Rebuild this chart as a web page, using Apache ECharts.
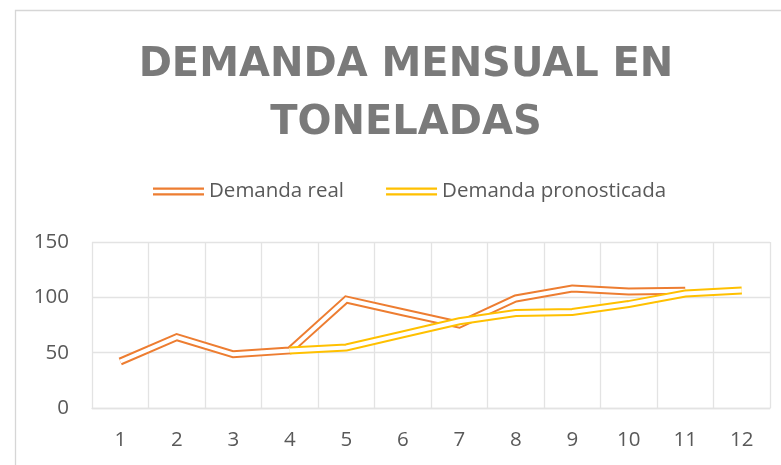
<!DOCTYPE html>
<html>
<head>
<meta charset="utf-8">
<script src="https://cdn.jsdelivr.net/npm/echarts@6/dist/echarts.min.js"></script>
<style>
  html, body { margin: 0; padding: 0; background: #fff; }
  #chart { width: 781px; height: 465px; }
</style>
</head>
<body>
<div id="chart"></div>
<script>
// months on the x axis
const months = ['1', '2', '3', '4', '5', '6', '7', '8', '9', '10', '11', '12'];
// tonnes per month
const demandaReal = [42, 64, 48.5, 52, 98, 86.5, 75.3, 99, 108, 105.2, 106, '-'];
const demandaPronosticada = ['-', '-', '-', 52, 54.7, 66.5, 78.4, 85.8, 86.7, 93.9, 103.5, 106.2];
const yTicks = { min: 0, max: 150, interval: 50 };

const ORANGE = '#ED7D31';
const YELLOW = '#FFC000';
const GRID = '#e3e3e3';
const TEXT = '#595959';
const FONT = '"Open Sans", sans-serif';

// double stroke like Excel's compound line: a wide coloured line with a white core
const doubleIcon = 'path://M0,0H51V2.2H0Z M0,5.8H51V8H0Z';

function outerLine(name, data, color) {
  return {
    name, type: 'line', data,
    symbol: 'none', silent: true,
    itemStyle: { color },
    lineStyle: { color, width: 8, join: 'miter', cap: 'butt' },
    emphasis: { disabled: true }
  };
}
function innerLine(name, data) {
  return {
    name, type: 'line', data,
    symbol: 'none', silent: true,
    itemStyle: { color: '#fff' },
    lineStyle: { color: '#fff', width: 4, join: 'miter', cap: 'butt' },
    emphasis: { disabled: true }
  };
}

const chart = echarts.init(document.getElementById('chart'));

const option = {
  animation: false,
  backgroundColor: '#fff',
  graphic: [{
    type: 'rect',
    shape: { x: 15.5, y: 10.5, width: 1000, height: 1000 },
    style: { fill: 'none', stroke: '#d6d6d6', lineWidth: 1.3 },
    silent: true
  }],
  title: {
    text: 'DEMANDA MENSUAL EN\nTONELADAS',
    left: 406,
    top: 37,
    padding: 0,
    textAlign: 'center',
    textStyle: {
      fontFamily: '"DejaVu Sans", sans-serif',
      fontWeight: 'bold',
      fontSize: 40,
      lineHeight: 58,
      color: '#7a7a7a'
    }
  },
  legend: {
    left: 148,
    top: 176,
    itemWidth: 51,
    itemHeight: 8,
    itemGap: 42,
    data: [
      { name: 'Demanda real', icon: doubleIcon },
      { name: 'Demanda pronosticada', icon: doubleIcon }
    ],
    textStyle: { fontFamily: FONT, fontSize: 20.5, color: TEXT }
  },
  grid: { left: 92, right: 11, top: 242, bottom: 57 },
  xAxis: {
    type: 'category',
    data: months,
    boundaryGap: true,
    axisLine: { show: true, lineStyle: { color: GRID, width: 1.3 } },
    axisTick: { show: false },
    axisLabel: { fontFamily: FONT, fontSize: 20.5, color: TEXT, margin: 22 },
    splitLine: { show: true, lineStyle: { color: GRID, width: 1.3 } }
  },
  yAxis: {
    type: 'value',
    min: yTicks.min,
    max: yTicks.max,
    interval: yTicks.interval,
    axisLine: { show: false },
    axisTick: { show: false },
    axisLabel: { fontFamily: FONT, fontSize: 20.5, color: TEXT, margin: 23 },
    splitLine: { show: true, lineStyle: { color: GRID, width: 1.3 } }
  },
  series: [
    outerLine('Demanda real', demandaReal, ORANGE),
    innerLine('Demanda real', demandaReal),
    outerLine('Demanda pronosticada', demandaPronosticada, YELLOW),
    innerLine('Demanda pronosticada', demandaPronosticada)
  ]
};

chart.setOption(option);
window.addEventListener('resize', () => chart.resize());
</script>
</body>
</html>
